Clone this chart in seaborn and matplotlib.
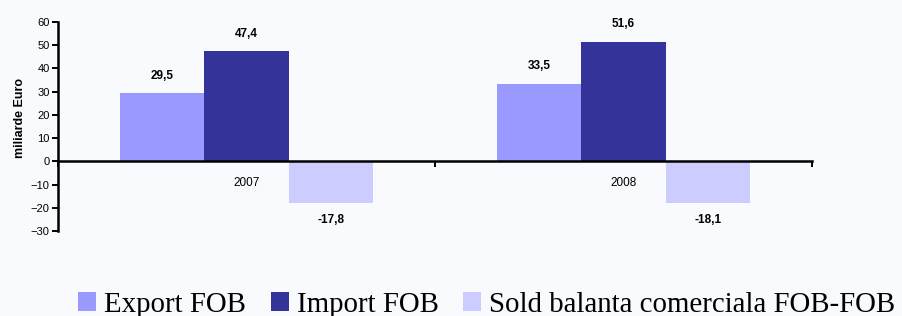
import matplotlib
matplotlib.use("Agg")
import matplotlib.pyplot as plt
from matplotlib.patches import Patch
import numpy as np
import pandas as pd
import seaborn as sns

# data
years = ["2007", "2008"]
series = ["Export FOB", "Import FOB", "Sold balanta comerciala FOB-FOB"]
export_fob = [29.5, 33.5]
import_fob = [47.4, 51.6]
sold_fob = [-17.8, -18.1]
colors = ["#9999FF", "#333399", "#CCCCFF"]

df = pd.DataFrame({
    "an": years * 3,
    "serie": [s for s in series for _ in years],
    "valoare": export_fob + import_fob + sold_fob,
})

sns.set_style("white", {"text.color": "black", "axes.labelcolor": "black",
                        "xtick.color": "black", "ytick.color": "black"})
plt.rcParams["font.family"] = ["Liberation Sans", "DejaVu Sans"]

fig = plt.figure(figsize=(9.02, 3.16), dpi=100, facecolor="#F9FAFE")
ax = fig.add_axes([58 / 902, 1 - 231 / 316, (812 - 58) / 902, (231 - 22) / 316])
ax.set_facecolor("#F9FAFE")

sns.barplot(data=df, x="an", y="valoare", hue="serie", hue_order=series,
            palette=colors, width=0.67, saturation=1, linewidth=0,
            ax=ax, legend=False)

for cont in ax.containers:
    labels = [("%.1f" % v).replace(".", ",") for v in cont.datavalues]
    ax.bar_label(cont, labels=labels, padding=8, fontsize=8.5, fontweight="bold",
                 color="black")

ax.set_ylim(-30, 60)
ax.set_xlim(-0.5, 1.5)
ax.set_yticks(np.arange(-30, 61, 10))
ax.tick_params(axis="y", left=True, labelsize=8, length=4, width=1.4,
               direction="out", pad=2)
ax.set_ylabel("miliarde Euro", fontsize=9, fontweight="bold")
ax.yaxis.set_label_coords(-0.043, 0.54)
ax.set_xlabel("")

# category axis drawn at zero, ticks between groups
ax.spines["bottom"].set_position(("data", 0))
for s in ["top", "right"]:
    ax.spines[s].set_visible(False)
for s in ["left", "bottom"]:
    ax.spines[s].set_linewidth(1.8)
    ax.spines[s].set_color("black")
ax.set_xticks([-0.5, 0.5, 1.5])
ax.set_xticklabels([])
ax.set_xticks([0, 1], minor=True)
ax.set_xticklabels(years, minor=True)
ax.tick_params(axis="x", which="major", bottom=True, length=4, width=1.4,
               direction="out")
ax.tick_params(axis="x", which="minor", bottom=True, length=0, labelsize=8.5, pad=11)

handles = [Patch(facecolor=c, edgecolor="none") for c in colors]
fig.legend(handles, series, loc="lower left", bbox_to_anchor=(78 / 902, -0.005), ncol=3,
           frameon=False, prop={"family": "Liberation Serif", "size": 20.8},
           handlelength=0.62, handleheight=0.62, handletextpad=0.28,
           columnspacing=0.86, borderpad=0, borderaxespad=0, labelcolor="black")

fig.savefig("out.png", dpi=100, facecolor=fig.get_facecolor())
